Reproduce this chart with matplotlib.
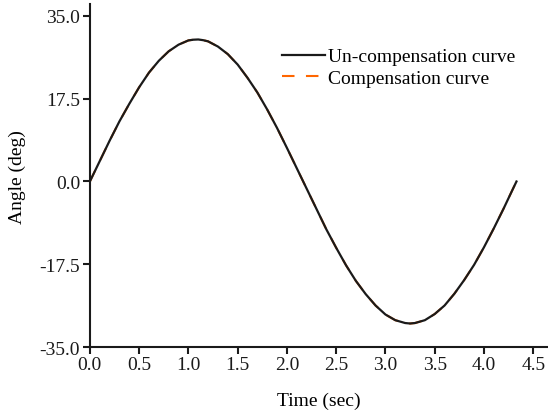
import matplotlib.pyplot as plt

plt.rcParams['font.family'] = ['Liberation Serif', 'DejaVu Serif']

# time (sec) and angle (deg)
time = [0.0, 0.1, 0.2, 0.3, 0.4, 0.5, 0.6, 0.7, 0.8, 0.9, 1.0, 1.05, 1.1, 1.15, 1.2, 1.3, 1.4,
        1.5, 1.6, 1.7, 1.8, 1.9, 2.0, 2.1, 2.2, 2.3, 2.4, 2.5, 2.6, 2.7, 2.8, 2.9,
        3.0, 3.1, 3.2, 3.25, 3.3, 3.4, 3.5, 3.6, 3.7, 3.8, 3.9, 4.0, 4.1, 4.2, 4.3, 4.33]
uncomp = [0.0, 4.3, 8.6, 12.7, 16.4, 19.9, 23.0, 25.5, 27.5, 28.9, 29.8, 29.95, 30.0, 29.85,
          29.6, 28.5, 26.9, 24.7, 21.9, 18.8, 15.2, 11.3, 7.1, 2.8, -1.5, -5.8, -10.1, -14.0,
          -17.7, -21.0, -23.8, -26.2, -28.1, -29.3, -29.9, -30.0, -29.9, -29.3, -28.0, -26.2,
          -23.7, -20.8, -17.6, -13.9, -9.9, -5.7, -1.3, 0.0]
comp = list(uncomp)  # compensation curve lies under the black one

xticks = [0.0, 0.5, 1.0, 1.5, 2.0, 2.5, 3.0, 3.5, 4.0, 4.5]
yticks = [-35.0, -17.5, 0.0, 17.5, 35.0]

fig = plt.figure(figsize=(5.48, 4.14), dpi=100)
ax = fig.add_axes([0.164, 0.159, 0.836, 0.829])

ax.plot(time, comp, color='#ff6600', lw=1.5, ls=(0, (6, 5.5)), label='Compensation curve')
ax.plot(time, uncomp, color='#1a1a1a', lw=1.6, solid_joinstyle='round',
        label='Un-compensation curve')

ax.set_xlim(0, 4.65)
ax.set_ylim(-35, 37.5)
ax.set_xticks(xticks)
ax.set_xticklabels([f'{v:.1f}' for v in xticks])
ax.set_yticks(yticks)
ax.set_yticklabels([f'{v:.1f}' for v in yticks])

for s in ['top', 'right']:
    ax.spines[s].set_visible(False)
for s in ['left', 'bottom']:
    ax.spines[s].set_linewidth(1.5)
    ax.spines[s].set_color('#1a1a1a')
ax.tick_params(direction='out', length=5, width=1.5, labelsize=14, pad=1, colors='#1a1a1a')
ax.tick_params(axis='y', pad=2)

ax.set_xlabel('Time (sec)', fontsize=14, labelpad=14)
ax.set_ylabel('Angle (deg)', fontsize=14, labelpad=10)

h, l = ax.get_legend_handles_labels()
ax.legend(h[::-1], l[::-1], loc='upper left', bbox_to_anchor=(0.402, 0.895), frameon=False,
          fontsize=14, handlelength=2.2, handletextpad=0.15, labelspacing=0.2,
          borderaxespad=0)

fig.savefig('out.png', dpi=100)
